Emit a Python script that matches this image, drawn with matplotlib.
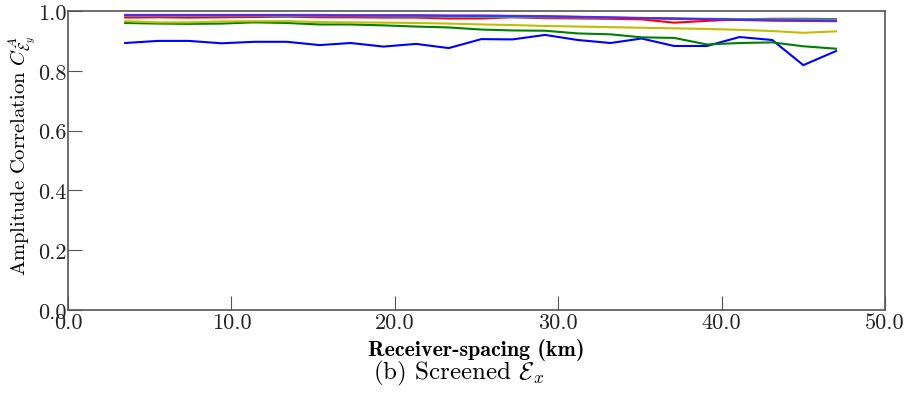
import numpy as np
import matplotlib
matplotlib.use("Agg")
import matplotlib.pyplot as plt

plt.rcParams['font.family'] = 'serif'
plt.rcParams['font.serif'] = ['cmr10']
plt.rcParams['mathtext.fontset'] = 'cm'
plt.rcParams['axes.unicode_minus'] = False

# Receiver spacing (km)
spacing = [3.5, 5.5, 7.4, 9.4, 11.4, 13.4, 15.4, 17.3, 19.3, 21.3, 23.3, 25.3,
           27.2, 29.2, 31.2, 33.2, 35.1, 37.1, 39.1, 41.1, 43.1, 45.0, 47.0]

# Amplitude correlation per series
corr_blue = [0.893, 0.900, 0.900, 0.892, 0.897, 0.897, 0.886, 0.893, 0.881, 0.890,
             0.876, 0.906, 0.905, 0.920, 0.903, 0.893, 0.908, 0.883, 0.883, 0.913,
             0.903, 0.819, 0.866]
corr_green = [0.960, 0.958, 0.957, 0.958, 0.962, 0.960, 0.955, 0.955, 0.952, 0.948,
              0.945, 0.938, 0.935, 0.934, 0.925, 0.922, 0.912, 0.910, 0.888, 0.893,
              0.895, 0.882, 0.874]
corr_red = [0.978, 0.979, 0.978, 0.979, 0.980, 0.981, 0.979, 0.979, 0.978, 0.978,
            0.975, 0.975, 0.979, 0.976, 0.975, 0.974, 0.972, 0.961, 0.967, 0.972,
            0.974, 0.974, 0.973]
corr_cyan = [0.984, 0.984, 0.984, 0.984, 0.984, 0.983, 0.983, 0.983, 0.982, 0.982,
             0.981, 0.980, 0.980, 0.979, 0.978, 0.977, 0.976, 0.975, 0.974, 0.973,
             0.972, 0.972, 0.971]
corr_magenta = [0.986, 0.986, 0.986, 0.986, 0.986, 0.986, 0.985, 0.985, 0.985, 0.985,
                0.984, 0.984, 0.983, 0.982, 0.980, 0.978, 0.976, 0.974, 0.972, 0.970,
                0.968, 0.967, 0.966]
corr_yellow = [0.966, 0.962, 0.962, 0.965, 0.966, 0.966, 0.963, 0.962, 0.961, 0.960,
               0.958, 0.955, 0.953, 0.950, 0.948, 0.946, 0.944, 0.942, 0.940, 0.937,
               0.933, 0.927, 0.932]
corr_top = [0.987, 0.987, 0.987, 0.987, 0.987, 0.987, 0.987, 0.986, 0.986, 0.986,
            0.985, 0.985, 0.984, 0.983, 0.981, 0.979, 0.977, 0.975, 0.973, 0.971,
            0.969, 0.968, 0.967]

series = [(corr_blue, 'b'), (corr_green, 'g'), (corr_red, 'r'), (corr_cyan, 'c'),
          (corr_magenta, 'm'), (corr_yellow, 'y'), (corr_top, '#4a30e0')]

fig = plt.figure(figsize=(9.09, 4.10), dpi=100)
ax = fig.add_axes([0.0748, 0.2415, 0.8988, 0.7292])

for vals, col in series:
    ax.plot(spacing, vals, color=col, lw=1.5, alpha=0.85 if col == '#4a30e0' else 1.0)

ax.set_xlim(0, 50)
ax.set_ylim(0, 1.0)
ax.set_xticks([0, 10, 20, 30, 40, 50])
ax.set_yticks([0.0, 0.2, 0.4, 0.6, 0.8, 1.0])
ax.set_xticklabels(['0.0', '10.0', '20.0', '30.0', '40.0', '50.0'])
ax.set_yticklabels(['0.0', '0.2', '0.4', '0.6', '0.8', '1.0'])
ax.tick_params(direction='in', length=10, width=0.8, labelsize=16, top=False, right=False,
               color='#555555', labelcolor='#222222')
ax.tick_params(axis='x', pad=2)
ax.tick_params(axis='y', pad=1)
for sp in ax.spines.values():
    sp.set_color('#555555')
    sp.set_linewidth(1.2)

ax.set_xlabel('Receiver-spacing (km)', fontfamily='cmb10', fontsize=15.8, labelpad=4)
ax.set_ylabel(r'Amplitude Correlation $C^{A}_{\mathcal{E}_y}$', fontsize=14.8)
ax.yaxis.set_label_coords(-0.037, 0.52)

fig.text(0.505, 0.088, r'(b) Screened $\mathcal{E}_x$', ha='center', va='center', fontsize=18)

fig.savefig('out.png', dpi=100)
